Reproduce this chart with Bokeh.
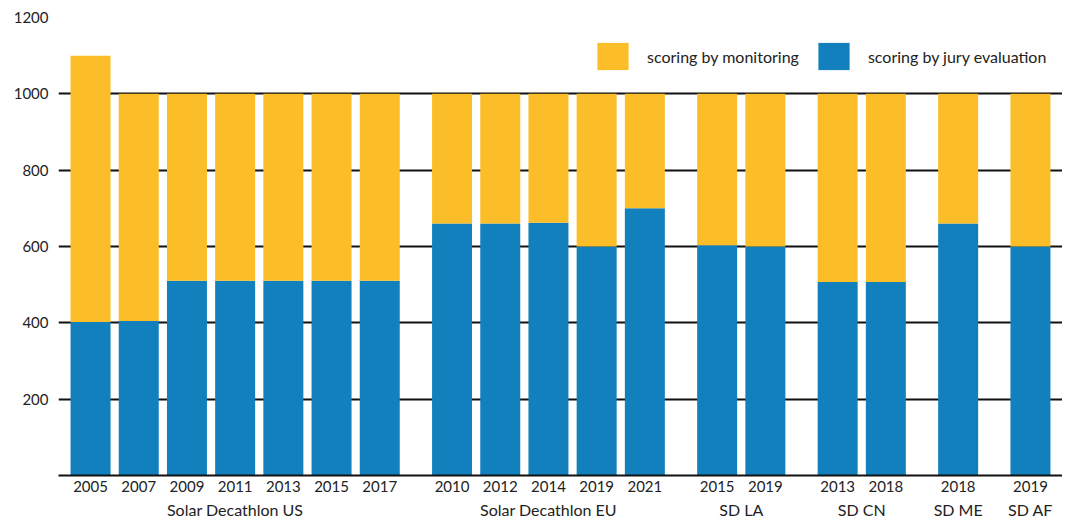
from bokeh.plotting import figure
from bokeh.models import FactorRange, Range1d, FixedTicker, Legend, LegendItem, ColumnDataSource
from bokeh.embed import file_html
from bokeh.resources import INLINE

# ---- data ----
groups = ["Solar Decathlon US"] * 7 + ["Solar Decathlon EU"] * 5 + ["SD LA"] * 2 + ["SD CN"] * 2 + ["SD ME"] + ["SD AF"]
years = ["2005", "2007", "2009", "2011", "2013", "2015", "2017",
         "2010", "2012", "2014", "2019", "2021",
         "2015", "2019",
         "2013", "2018",
         "2018",
         "2019"]
jury = [402, 405, 510, 510, 510, 510, 510,
        660, 660, 662, 600, 700,
        603, 600,
        507, 507,
        660,
        600]
monitoring = [698, 595, 490, 490, 490, 490, 490,
              340, 340, 338, 400, 300,
              397, 400,
              493, 493,
              340,
              400]
y_ticks = [200, 400, 600, 800, 1000, 1200]

YELLOW = "#FBBE28"
BLUE = "#1380BE"
TEXT = "#222222"
FONT = "Lato"

factors = list(zip(groups, years))
source = ColumnDataSource(dict(x=factors, jury=jury, monitoring=monitoring))

x_range = FactorRange(*factors, group_padding=0.5, factor_padding=0.0,
                      range_padding=0.165, range_padding_units="absolute")

p = figure(x_range=x_range, y_range=Range1d(0, 1200), width=1062, height=521,
           output_backend="svg", toolbar_location=None,
           min_border_left=58, min_border_right=0, min_border_top=17, min_border_bottom=44)

rs = p.vbar_stack(["jury", "monitoring"], x="x", width=0.83, source=source,
                  color=[BLUE, YELLOW], line_color=None)

legend = Legend(items=[LegendItem(label="scoring by monitoring", renderers=[rs[1]]),
                       LegendItem(label="scoring by jury evaluation", renderers=[rs[0]])],
                orientation="horizontal", location=(535, 402),
                glyph_width=39, glyph_height=34, label_standoff=15, spacing=15,
                padding=0, margin=0, border_line_color=None, background_fill_alpha=0,
                label_text_font=FONT, label_text_font_size="16px", label_text_color=TEXT)
p.add_layout(legend)

p.outline_line_color = None
p.xgrid.grid_line_color = None
p.ygrid.ticker = FixedTicker(ticks=[0] + y_ticks)
p.ygrid.grid_line_color = "#111111"
p.ygrid.grid_line_width = 2

p.yaxis.ticker = FixedTicker(ticks=y_ticks)
p.yaxis.axis_line_color = None
p.yaxis.major_tick_line_color = None
p.yaxis.minor_tick_line_color = None
p.yaxis.major_tick_out = 0
p.yaxis.major_label_standoff = 10
p.yaxis.major_label_text_font = FONT
p.yaxis.major_label_text_font_size = "15px"
p.yaxis.major_label_text_color = TEXT

xa = p.xaxis[0]
xa.axis_line_color = "#111111"
xa.axis_line_width = 2
xa.major_tick_line_color = None
xa.major_tick_out = 0
xa.major_label_standoff = 5
xa.major_label_text_font = FONT
xa.major_label_text_font_size = "15px"
xa.major_label_text_color = TEXT
xa.group_text_font = FONT
xa.group_text_font_size = "16px"
xa.group_text_font_style = "normal"
xa.group_text_color = TEXT
xa.separator_line_alpha = 0

open("out.html", "w").write(file_html(p, INLINE))
